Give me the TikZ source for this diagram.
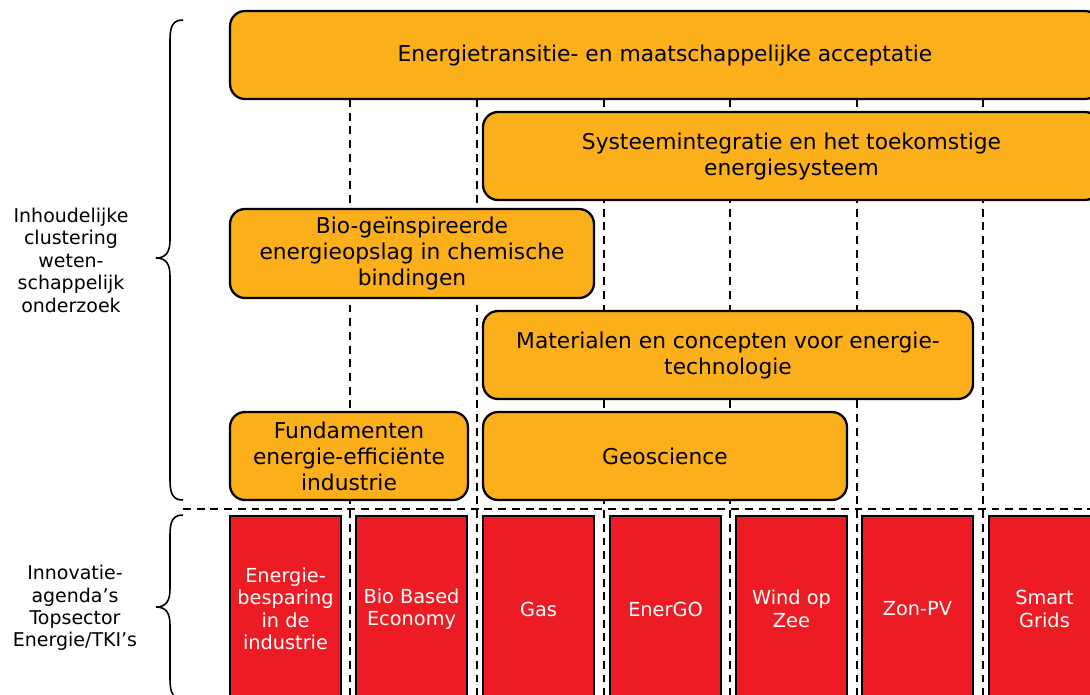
\documentclass[tikz,border=0pt]{standalone}
\usepackage{fontspec}
\setmainfont{DejaVu Sans}
\usepackage{tikz}
\definecolor{clusterorange}{RGB}{251,176,27}
\definecolor{tkired}{RGB}{237,28,36}

\begin{document}
\begin{tikzpicture}[x=0.02cm, y=-0.02cm,
	cluster/.style={draw, line width=1.3pt, fill=clusterorange, rounded corners=0.3cm,
		align=center, inner sep=0pt, font=\fontsize{12.4}{14.8}\selectfont},
	agenda/.style={draw, line width=1.3pt, fill=tkired, text=white, align=center,
		inner sep=0pt, minimum width=2.22cm, minimum height=3.72cm,
		font=\fontsize{11}{12.8}\selectfont},
	sidelabel/.style={align=center, font=\fontsize{10.8}{12.8}\selectfont},
	colline/.style={line width=1.2pt, dash pattern=on 4.5pt off 3.3pt}]

\useasboundingbox (0,0) rectangle (1090,694);
\clip (0,0) rectangle (1090,694);

%column lines
\foreach \x in {350,477,604,730,857,983}
	\draw[colline] (\x,99) -- (\x,700);
\draw[colline] (183,509) -- (1100,509);

%clusters
\node[cluster, minimum width=17.4cm, minimum height=1.76cm] (trans) at (665,55)
	{Energietransitie- en maatschappelijke acceptatie};
\node[cluster, minimum width=12.34cm, minimum height=1.76cm] (syst) at (791.5,156)
	{Systeemintegratie en het toekomstige\\energiesysteem};
\node[cluster, minimum width=7.28cm, minimum height=1.78cm] (bio) at (412,253.5)
	{Bio-geïnspireerde\\energieopslag in chemische\\bindingen};
\node[cluster, minimum width=9.8cm, minimum height=1.76cm] (mat) at (728,355)
	{Materialen en concepten voor energie-\\technologie};
\node[cluster, minimum width=4.76cm, minimum height=1.76cm] (fund) at (349,456)
	{Fundamenten\\energie-efficiënte\\industrie};
\node[cluster, minimum width=7.28cm, minimum height=1.76cm] (geo) at (665,456)
	{Geoscience};

%topsector agendas
\foreach \x/\name/\txt in {285.5/ind/{Energie-\\besparing\\in de\\industrie},
		411.5/bbe/{Bio Based\\Economy}, 538.5/gas/{Gas}, 665.5/energo/{EnerGO},
		791.5/wind/{Wind op\\Zee}, 917.5/zon/{Zon-PV}, 1044.5/grids/{Smart\\Grids}}
	\node[agenda] (\name) at (\x,609) {\txt};

%braces
\draw[line width=0.9pt] (183,20) .. controls (173,20) and (170,26) ..
	(170,40) --
	(170,240) .. controls (170,252) and (166,258) ..
	(156,258) .. controls (166,258) and (170,264) ..
	(170,276) --
	(170,480) .. controls (170,494) and (173,500) ..
	(183,500);

\draw[line width=0.9pt] (183,515) .. controls (173,515) and (170,521) ..
	(170,535) --
	(170,589) .. controls (170,601) and (166,607) ..
	(156,607) .. controls (166,607) and (170,613) ..
	(170,625) --
	(170,679) .. controls (170,693) and (173,699) ..
	(183,699);

\node[sidelabel] (clus) at (71,260)
	{Inhoudelijke\\clustering\\weten-\\schappelijk\\onderzoek};
\node[sidelabel] (tki) at (75,608)
	{Innovatie-\\agenda’s\\Topsector\\Energie/TKI’s};

\end{tikzpicture}
\end{document}
